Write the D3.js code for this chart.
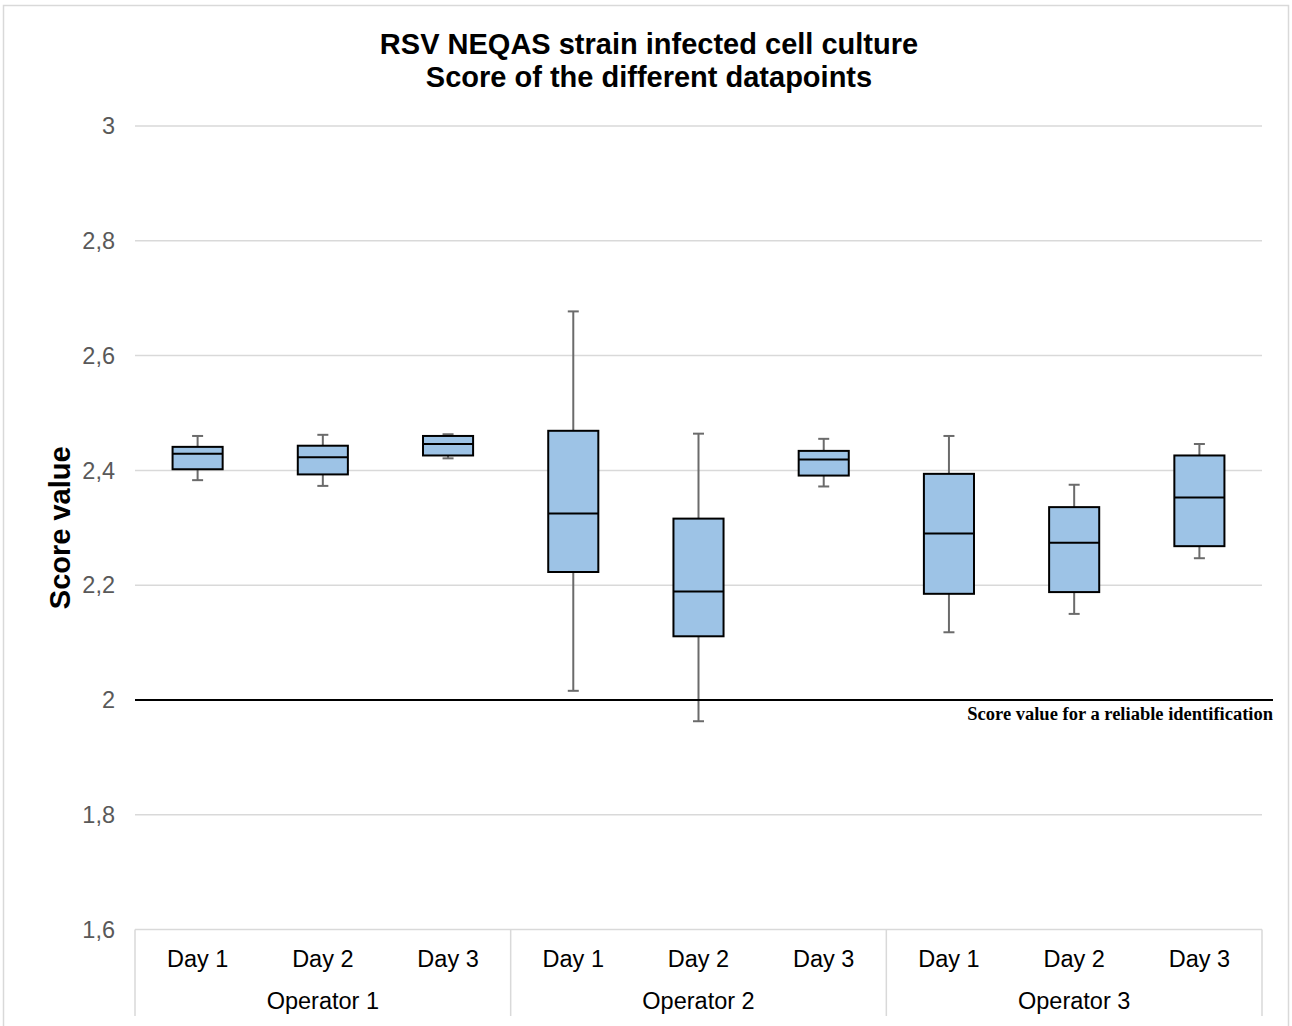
<!DOCTYPE html>
<html>
<head>
<meta charset="utf-8">
<script src="https://cdn.jsdelivr.net/npm/d3@7"></script>
<style>
  body { margin: 0; background: #fff; }
  svg { display: block; }
</style>
</head>
<body>
<svg id="chart" width="1292" height="1026"></svg>
<script>
const operators = ["Operator 1", "Operator 2", "Operator 3"];
const days = ["Day 1", "Day 2", "Day 3"];
const categories = ["O1D1","O1D2","O1D3","O2D1","O2D2","O2D3","O3D1","O3D2","O3D3"];
const whiskerLow  = [2.383, 2.373, 2.421, 2.016, 1.963, 2.372, 2.118, 2.150, 2.247];
const q1Values    = [2.402, 2.393, 2.426, 2.223, 2.111, 2.391, 2.185, 2.188, 2.268];
const medians     = [2.429, 2.423, 2.446, 2.325, 2.189, 2.419, 2.290, 2.274, 2.353];
const q3Values    = [2.441, 2.443, 2.460, 2.469, 2.316, 2.434, 2.394, 2.336, 2.426];
const whiskerHigh = [2.460, 2.462, 2.463, 2.677, 2.464, 2.455, 2.460, 2.375, 2.446];
const yTicks = [1.6, 1.8, 2, 2.2, 2.4, 2.6, 2.8, 3];
const thresholdValue = 2;
const thresholdLabel = "Score value for a reliable identification";

(function () {
const svg = d3.select("#chart");
const plotL = 135, plotR = 1262, plotT = 126, plotB = 929.6;
const sans = "Liberation Sans, Arial, sans-serif";

// outer border
svg.append("rect").attr("x", 3.5).attr("y", 5.5).attr("width", 1285).attr("height", 1030)
  .attr("fill", "none").attr("stroke", "#d9d9d9").attr("stroke-width", 1.5);

const y = d3.scaleLinear().domain([1.6, 3]).range([plotB, plotT]);
const x = d3.scaleBand().domain(categories).range([plotL, plotR]).paddingInner(0).paddingOuter(0);
const boxW = x.bandwidth() * 0.4;

// gridlines
svg.append("g").selectAll("line").data(yTicks.filter(t => t > 1.6)).join("line")
  .attr("x1", plotL).attr("x2", plotR)
  .attr("y1", d => y(d)).attr("y2", d => y(d))
  .attr("stroke", "#d9d9d9").attr("stroke-width", 1.5);

// y tick labels
const fmt = d => String(d).replace(".", ",");
svg.append("g").selectAll("text").data(yTicks).join("text")
  .attr("x", 115).attr("y", d => y(d)).attr("dy", "0.35em")
  .attr("text-anchor", "end")
  .attr("font-family", sans).attr("font-size", 23.5)
  .attr("fill", "#595959").text(fmt);

// y axis title
svg.append("text")
  .attr("transform", `translate(70,${(plotT + plotB) / 2}) rotate(-90)`)
  .attr("text-anchor", "middle")
  .attr("font-family", sans).attr("font-size", 29).attr("font-weight", "bold")
  .attr("fill", "#000").text("Score value");

// title
const title = svg.append("text").attr("text-anchor", "middle")
  .attr("font-family", sans).attr("font-size", 29).attr("font-weight", "bold");
title.append("tspan").attr("x", 649).attr("y", 54).text("RSV NEQAS strain infected cell culture");
title.append("tspan").attr("x", 649).attr("y", 87).text("Score of the different datapoints");

// x axis baseline
svg.append("line").attr("x1", plotL).attr("x2", plotR).attr("y1", plotB).attr("y2", plotB)
  .attr("stroke", "#d9d9d9").attr("stroke-width", 1.5);

// group separators
const groupBounds = [0, 3, 6, 9].map(i => i < 9 ? x(categories[i]) : plotR);
svg.append("g").selectAll("line").data(groupBounds).join("line")
  .attr("x1", d => d).attr("x2", d => d).attr("y1", plotB).attr("y2", 1016)
  .attr("stroke", "#d9d9d9").attr("stroke-width", 1.5);

// day labels
svg.append("g").selectAll("text").data(categories).join("text")
  .attr("x", d => x(d) + x.bandwidth() / 2).attr("y", 967)
  .attr("text-anchor", "middle")
  .attr("font-family", sans).attr("font-size", 23.5)
  .attr("fill", "#000").text((d, i) => days[i % 3]);

// operator labels
svg.append("g").selectAll("text").data(operators).join("text")
  .attr("x", (d, i) => (groupBounds[i] + groupBounds[i + 1]) / 2).attr("y", 1009)
  .attr("text-anchor", "middle")
  .attr("font-family", sans).attr("font-size", 23.5)
  .attr("fill", "#000").text(d => d);

// boxes
const g = svg.append("g");
categories.forEach((c, i) => {
  const cx = x(c) + x.bandwidth() / 2;
  const capW = 11;
  g.append("line").attr("x1", cx).attr("x2", cx).attr("y1", y(whiskerHigh[i])).attr("y2", y(q3Values[i]))
    .attr("stroke", "#6b6b6b").attr("stroke-width", 2);
  g.append("line").attr("x1", cx).attr("x2", cx).attr("y1", y(q1Values[i])).attr("y2", y(whiskerLow[i]))
    .attr("stroke", "#6b6b6b").attr("stroke-width", 2);
  g.append("line").attr("x1", cx - capW / 2).attr("x2", cx + capW / 2).attr("y1", y(whiskerHigh[i])).attr("y2", y(whiskerHigh[i]))
    .attr("stroke", "#6b6b6b").attr("stroke-width", 2);
  g.append("line").attr("x1", cx - capW / 2).attr("x2", cx + capW / 2).attr("y1", y(whiskerLow[i])).attr("y2", y(whiskerLow[i]))
    .attr("stroke", "#6b6b6b").attr("stroke-width", 2);
  g.append("rect").attr("x", cx - boxW / 2).attr("width", boxW)
    .attr("y", y(q3Values[i])).attr("height", y(q1Values[i]) - y(q3Values[i]))
    .attr("fill", "#9dc3e6").attr("stroke", "#000").attr("stroke-width", 2);
  g.append("line").attr("x1", cx - boxW / 2).attr("x2", cx + boxW / 2)
    .attr("y1", y(medians[i])).attr("y2", y(medians[i]))
    .attr("stroke", "#000").attr("stroke-width", 2);
});

// threshold line
svg.append("line").attr("x1", plotL).attr("x2", 1273)
  .attr("y1", y(thresholdValue)).attr("y2", y(thresholdValue))
  .attr("stroke", "#000").attr("stroke-width", 2.2);
svg.append("text").attr("x", 1273).attr("y", y(thresholdValue) + 20)
  .attr("text-anchor", "end")
  .attr("font-family", "Liberation Serif, Times New Roman, serif").attr("font-size", 18.5).attr("font-weight", "bold")
  .attr("fill", "#000").text(thresholdLabel);
})();
</script>
</body>
</html>
